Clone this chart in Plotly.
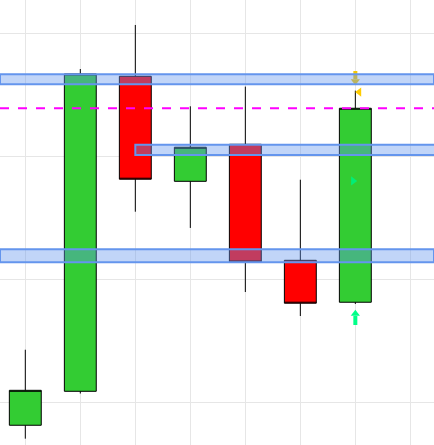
import plotly.graph_objects as go

# candle data
x_idx = [0, 1, 2, 3, 4, 5, 6]
opens = [8.19, 10.95, 36.56, 28.02, 31.03, 21.60, 18.19]
highs = [14.33, 37.15, 40.73, 34.12, 35.72, 28.15, 35.39]
lows = [7.10, 10.77, 25.55, 24.23, 19.02, 17.07, 18.05]
closes = [11.03, 36.75, 28.19, 30.79, 21.46, 18.11, 33.96]

# zone bands (x start, low, high)
band_start = [None, 2, None]
band_low = [35.91, 30.16, 21.44]
band_high = [36.72, 31.00, 22.50]

# dashed level
level = 33.96

# arrow signals: x, tail, shaft end, head center
arrow_x = [6, 6]
arrow_tail = [16.34, 36.99]
arrow_shaft_end = [17.07, 36.34]
arrow_head = [17.26, 36.16]
arrow_symbol = ["triangle-up", "triangle-down"]
arrow_color = ["#00ff88", "#f5c800"]

tri_left = (6.07, 35.28)
tri_right = (5.96, 28.05)

fig = go.Figure()
fig.add_trace(go.Candlestick(
    x=x_idx, open=opens, high=highs, low=lows, close=closes,
    increasing=dict(fillcolor="#33cc33", line=dict(color="black", width=1)),
    decreasing=dict(fillcolor="#ff0000", line=dict(color="black", width=1)),
    whiskerwidth=0, showlegend=False, hoverinfo="skip",
))

for ax_, t, s, h, sym, col in zip(arrow_x, arrow_tail, arrow_shaft_end, arrow_head, arrow_symbol, arrow_color):
    fig.add_trace(go.Scatter(x=[ax_, ax_], y=[t, s], mode="lines",
                             line=dict(color=col, width=4), showlegend=False, hoverinfo="skip"))
    fig.add_trace(go.Scatter(x=[ax_], y=[h], mode="markers",
                             marker=dict(symbol=sym, size=8, color=col, line=dict(width=0)),
                             showlegend=False, hoverinfo="skip"))

fig.add_trace(go.Scatter(x=[tri_left[0]], y=[tri_left[1]], mode="markers",
                         marker=dict(symbol="triangle-left", size=8, color="#ffcc00"),
                         showlegend=False, hoverinfo="skip"))
fig.add_trace(go.Scatter(x=[tri_right[0]], y=[tri_right[1]], mode="markers",
                         marker=dict(symbol="triangle-right", size=8, color="#00ee77"),
                         showlegend=False, hoverinfo="skip"))

for xs, lo, hi in zip(band_start, band_low, band_high):
    if xs is None:
        fig.add_shape(type="rect", xref="paper", yref="y", x0=0, x1=1, y0=lo, y1=hi,
                      fillcolor="rgba(100,149,237,0.4)", line=dict(color="cornflowerblue", width=2),
                      layer="above")
    else:
        fig.add_shape(type="rect", xref="x", yref="y", x0=xs, x1=10, y0=lo, y1=hi,
                      fillcolor="rgba(100,149,237,0.4)", line=dict(color="cornflowerblue", width=2),
                      layer="above")

fig.add_shape(type="line", xref="paper", yref="y", x0=0, x1=1, y0=level, y1=level,
              line=dict(color="magenta", width=2, dash="dash"), layer="above")

fig.update_layout(
    width=434, height=445, margin=dict(l=0, r=0, t=0, b=0),
    plot_bgcolor="white", paper_bgcolor="white",
    boxgap=0.42, boxgroupgap=0,
    xaxis=dict(range=[-0.46, 7.43], tickvals=list(range(8)), showticklabels=False,
               showgrid=True, gridcolor="#e6e6e6", zeroline=False, rangeslider=dict(visible=False),
               fixedrange=True),
    yaxis=dict(range=[6.585, 42.76], tickvals=[10, 20, 30, 40], showticklabels=False,
               showgrid=True, gridcolor="#e6e6e6", zeroline=False, fixedrange=True),
)

fig.write_html("out.html", config={"displayModeBar": False},
               post_script="document.body.style.margin='0px';")
